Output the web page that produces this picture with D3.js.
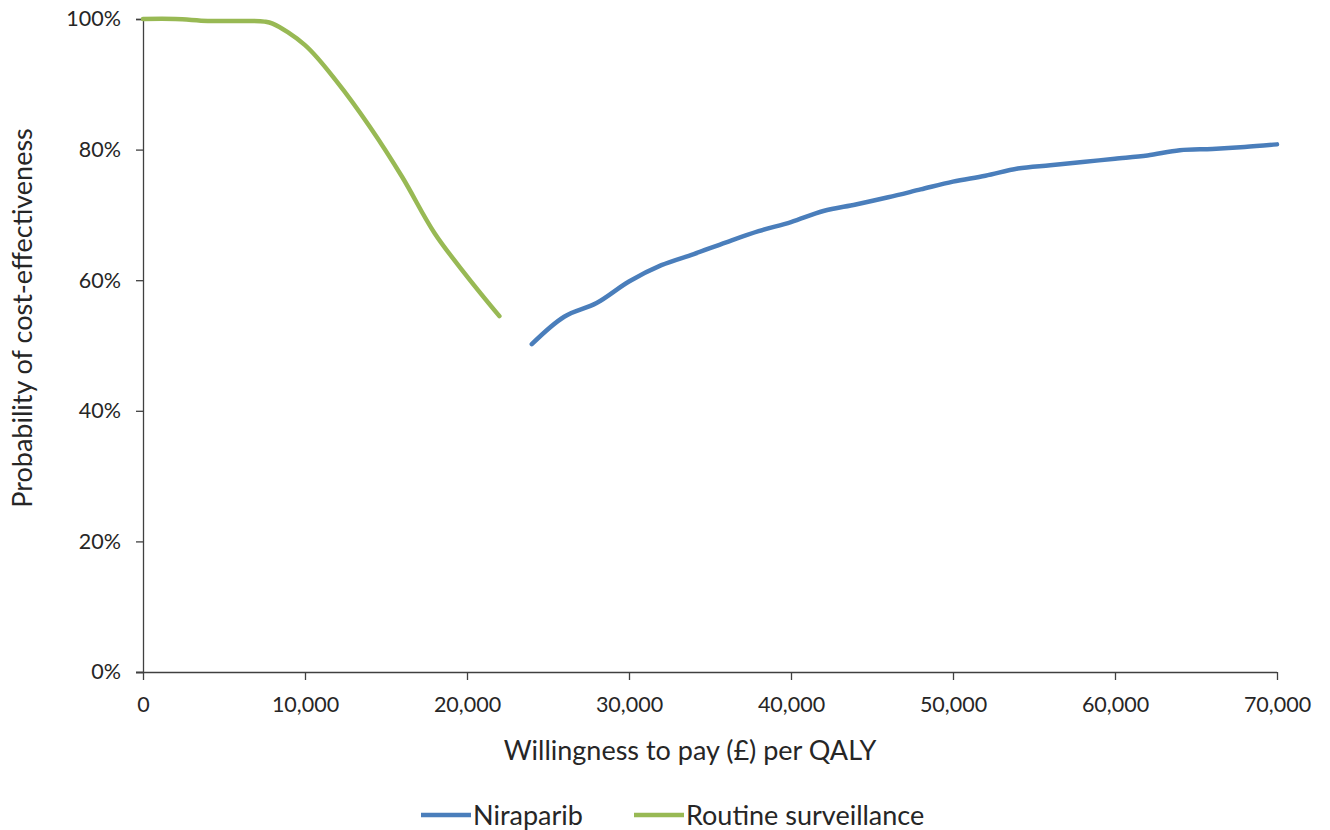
<!DOCTYPE html>
<html><head><meta charset="utf-8">
<script src="https://cdn.jsdelivr.net/npm/d3@7"></script>
<style>
html,body{margin:0;padding:0;background:#fff;}
svg text{font-family:"Lato","Open Sans",sans-serif;fill:#262626;}
</style></head>
<body><svg id="c" width="1330" height="830"></svg>
<script>
// ---- data ----
const wtpRoutine = [0, 2000, 4000, 6000, 7500, 8000, 10000, 12000, 14000, 16000, 18000, 20000, 22000];
const routineSurveillance = [100, 100, 99.7, 99.7, 99.6, 99.3, 96.0, 90.3, 83.5, 75.8, 67.2, 60.6, 54.5];
const wtpNiraparib = [24000, 26000, 28000, 30000, 32000, 34000, 36000, 38000, 40000, 42000, 44000, 46000, 48000, 50000, 52000, 54000, 56000, 58000, 60000, 62000, 64000, 66000, 68000, 70000];
const niraparib = [50.2, 54.4, 56.5, 59.8, 62.3, 64.0, 65.8, 67.5, 68.9, 70.6, 71.6, 72.7, 73.9, 75.1, 76.0, 77.1, 77.6, 78.1, 78.6, 79.1, 79.9, 80.1, 80.4, 80.8];
const xTicks = [0, 10000, 20000, 30000, 40000, 50000, 60000, 70000];
const yTicks = [0, 20, 40, 60, 80, 100];
const seriesNames = ["Niraparib", "Routine surveillance"];
const seriesColors = ["#4a7ebb", "#98b954"];

const svg = d3.select("#c");
const mL = 143, mR = 1277, mT = 19, mB = 672;
const x = d3.scaleLinear().domain([0, 70000]).range([mL, mR]);
const y = d3.scaleLinear().domain([0, 100]).range([mB, mT]);

const fmt = d3.format(",");
// x axis
const xa = svg.append("g").attr("transform", `translate(0,${mB})`)
  .call(d3.axisBottom(x).tickValues(xTicks).tickFormat(d => fmt(d)).tickSizeOuter(0).tickSize(8).tickPadding(17));
// y axis
const ya = svg.append("g").attr("transform", `translate(${mL},0)`)
  .call(d3.axisLeft(y).tickValues(yTicks).tickFormat(d => d + "%").tickSizeOuter(0).tickSize(7).tickPadding(15));
[xa, ya].forEach(a => {
  a.select(".domain").attr("stroke", "#404040").attr("stroke-width", 1.3);
  a.selectAll(".tick line").attr("stroke", "#404040").attr("stroke-width", 1.3);
  a.selectAll(".tick text").attr("font-size", 21.5).style("fill", "#262626");
});
xa.select(".domain").attr("d", `M${mL - 7},0.5H${mR}`);

// axis titles
svg.append("text").attr("x", 690).attr("y", 760).attr("text-anchor", "middle")
  .attr("font-size", 27).text("Willingness to pay (£) per QALY");
svg.append("text").attr("transform", "translate(32,318) rotate(-90)").attr("text-anchor", "middle")
  .attr("font-size", 27).text("Probability of cost-effectiveness");

const line = d3.line().x(d => x(d[0])).y(d => y(d[1])).curve(d3.curveCatmullRom.alpha(0.5));
svg.append("path").datum(wtpNiraparib.map((w, i) => [w, niraparib[i]]))
  .attr("d", line).attr("fill", "none").attr("stroke", seriesColors[0]).attr("stroke-width", 4.5).attr("stroke-linecap", "round");
svg.append("path").datum(wtpRoutine.map((w, i) => [w, routineSurveillance[i]]))
  .attr("d", line).attr("fill", "none").attr("stroke", seriesColors[1]).attr("stroke-width", 4.5).attr("stroke-linecap", "round");

// legend
const legX = [421, 634];
seriesNames.forEach((n, i) => {
  const g = svg.append("g").attr("transform", `translate(${legX[i]},815)`);
  g.append("line").attr("x1", 0).attr("x2", 50).attr("y1", 0).attr("y2", 0)
    .attr("stroke", seriesColors[i]).attr("stroke-width", 4.5);
  g.append("text").attr("x", 52).attr("y", 9.5).attr("font-size", 27).text(n);
});
</script></body></html>
